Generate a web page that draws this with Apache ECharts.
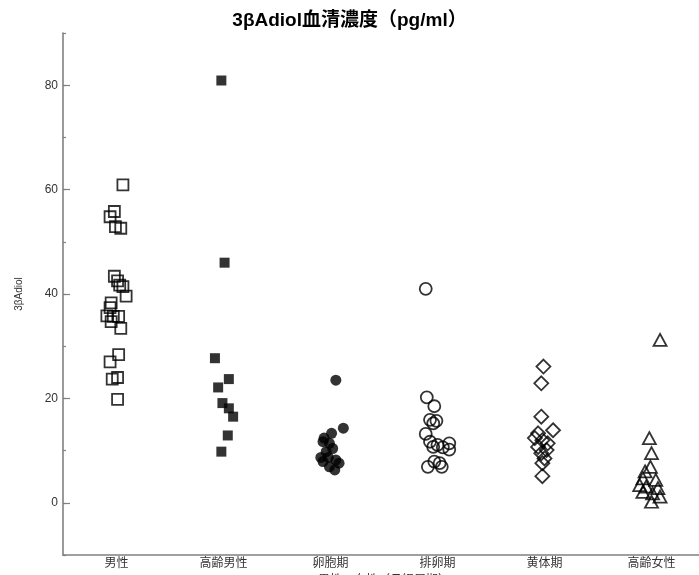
<!DOCTYPE html>
<html>
<head>
<meta charset="utf-8">
<title>3βAdiol</title>
<script src="https://cdn.jsdelivr.net/npm/echarts@6/dist/echarts.min.js"></script>
<style>
  html, body { margin: 0; padding: 0; background: #fff; }
  #chart { width: 699px; height: 575px; }
</style>
</head>
<body>
<div id="chart"></div>
<script>
  // categories
  const groups = ['男性', '高齢男性', '卵胞期', '排卵期', '黄体期', '高齢女性'];
  const yTicks = [0, 20, 40, 60, 80];

  // [x (group + jitter), value]
  const male = [
    [1.06, 60.9], [0.98, 55.8], [0.94, 54.8], [0.99, 52.9], [1.04, 52.6],
    [0.98, 43.4], [1.01, 42.5], [1.03, 41.7], [1.06, 41.4], [1.09, 39.6],
    [0.95, 38.3], [0.94, 37.4], [0.91, 35.8], [0.97, 35.7], [1.02, 35.7],
    [0.95, 34.7], [1.04, 33.4], [1.02, 28.4], [0.94, 27.0], [1.01, 24.0],
    [0.96, 23.7], [1.01, 19.8]
  ];
  const oldMale = [
    [1.98, 80.9], [2.01, 46.0], [1.92, 27.7], [2.05, 23.7], [1.95, 22.1],
    [1.99, 19.1], [2.05, 18.1], [2.09, 16.5], [2.04, 12.9], [1.98, 9.8]
  ];
  const follicular = [
    [3.05, 23.5], [3.12, 14.3], [3.01, 13.3], [2.94, 12.4], [2.99, 11.4],
    [2.93, 11.7], [3.02, 10.4], [2.96, 9.8], [2.91, 8.7], [2.98, 8.7],
    [3.05, 8.2], [2.93, 7.9], [3.08, 7.6], [2.99, 6.9], [3.04, 6.3]
  ];
  const ovulatory = [
    [3.89, 41.0], [3.90, 20.2], [3.97, 18.5], [3.93, 15.9], [3.99, 15.7],
    [3.96, 15.2], [3.89, 13.2], [3.93, 11.7], [3.96, 10.7], [4.00, 11.1],
    [4.05, 10.6], [4.11, 11.4], [4.11, 10.2], [3.91, 6.9], [3.97, 7.9],
    [4.02, 7.6], [4.04, 6.9]
  ];
  const luteal = [
    [4.99, 26.1], [4.97, 22.9], [4.97, 16.5], [5.08, 13.9], [4.94, 13.3],
    [4.91, 12.4], [4.98, 12.0], [5.03, 11.4], [4.94, 10.7], [5.02, 10.1],
    [4.97, 9.5], [5.00, 8.5], [4.98, 7.6], [4.98, 5.1]
  ];
  const oldFemale = [
    [6.08, 31.2], [5.98, 12.4], [6.00, 9.5], [5.99, 6.9], [5.94, 6.0],
    [5.92, 4.7], [6.04, 4.4], [5.89, 3.4], [5.95, 3.1], [6.06, 2.8],
    [5.92, 2.1], [6.01, 1.8], [6.08, 1.2], [6.00, 0.2]
  ];

  const FONT = "'Liberation Sans', 'Noto Sans CJK JP', sans-serif";
  const AXIS_COLOR = '#808080';

  const chart = echarts.init(document.getElementById('chart'), null, { renderer: 'canvas' });

  function openStyle() {
    return { color: 'transparent', borderColor: '#000', borderWidth: 1.8 };
  }
  function filledStyle() {
    return { color: '#000', borderColor: '#000', borderWidth: 0 };
  }

  chart.setOption({
    animation: false,
    backgroundColor: '#fff',
    title: {
      text: '3βAdiol血清濃度（pg/ml）',
      left: 'center',
      top: 11,
      padding: 0,
      textStyle: { fontFamily: FONT, fontSize: 19, fontWeight: 'bold', color: '#000' }
    },
    grid: [
      // main plot
      { left: 63, right: -6, top: 33, bottom: 20, outerBoundsMode: 'none', containLabel: false },
      // only used for the long ticks + labels at 0..80
      { left: 63, right: -6, top: 85.2, bottom: 72.2, outerBoundsMode: 'none', containLabel: false }
    ],
    xAxis: [
      {
        type: 'value', gridIndex: 0, min: 0.5, max: 6.5,
        axisLine: { show: true, onZero: false, lineStyle: { color: AXIS_COLOR, width: 1.6 } },
        axisTick: { show: false }, axisLabel: { show: false }, splitLine: { show: false }
      },
      {
        type: 'category', gridIndex: 0, position: 'bottom', data: groups,
        boundaryGap: true,
        axisLine: { show: false, onZero: false }, axisTick: { show: false }, splitLine: { show: false },
        axisLabel: { margin: 3, fontFamily: FONT, fontSize: 12, color: '#333' },
        name: '男性・女性（月経周期）',
        nameLocation: 'middle',
        nameGap: 17,
        nameTextStyle: { fontFamily: FONT, fontSize: 12, color: '#333' }
      },
      {
        type: 'value', gridIndex: 1, min: 0.5, max: 6.5, show: false
      }
    ],
    yAxis: [
      {
        type: 'value', gridIndex: 0, min: -10, max: 90, interval: 10,
        axisLine: { show: true, onZero: false, lineStyle: { color: AXIS_COLOR, width: 1.6 } },
        axisTick: { show: true, inside: true, length: 3, lineStyle: { color: AXIS_COLOR, width: 1.2 } },
        axisLabel: { show: false },
        splitLine: { show: false },
        name: '3βAdiol',
        nameLocation: 'middle',
        nameGap: 39,
        nameTextStyle: { fontFamily: FONT, fontSize: 10, color: '#333' }
      },
      {
        type: 'value', gridIndex: 1, min: yTicks[0], max: yTicks[yTicks.length - 1], interval: 20,
        axisLine: { show: false, onZero: false },
        axisTick: { show: true, inside: true, length: 7, lineStyle: { color: AXIS_COLOR, width: 1.2 } },
        axisLabel: { margin: 5, fontFamily: FONT, fontSize: 12, color: '#333' },
        splitLine: { show: false }
      }
    ],
    series: [
      { name: '男性', type: 'scatter', data: male, symbol: 'rect', symbolSize: 11, itemStyle: openStyle() },
      { name: '高齢男性', type: 'scatter', data: oldMale, symbol: 'rect', symbolSize: 10, itemStyle: filledStyle() },
      { name: '卵胞期', type: 'scatter', data: follicular, symbol: 'circle', symbolSize: 11, itemStyle: filledStyle() },
      { name: '排卵期', type: 'scatter', data: ovulatory, symbol: 'circle', symbolSize: 12, itemStyle: openStyle() },
      { name: '黄体期', type: 'scatter', data: luteal, symbol: 'diamond', symbolSize: 14, itemStyle: openStyle() },
      { name: '高齢女性', type: 'scatter', data: oldFemale, symbol: 'triangle', symbolSize: [13, 12], itemStyle: openStyle() }
    ]
  });
</script>
</body>
</html>
